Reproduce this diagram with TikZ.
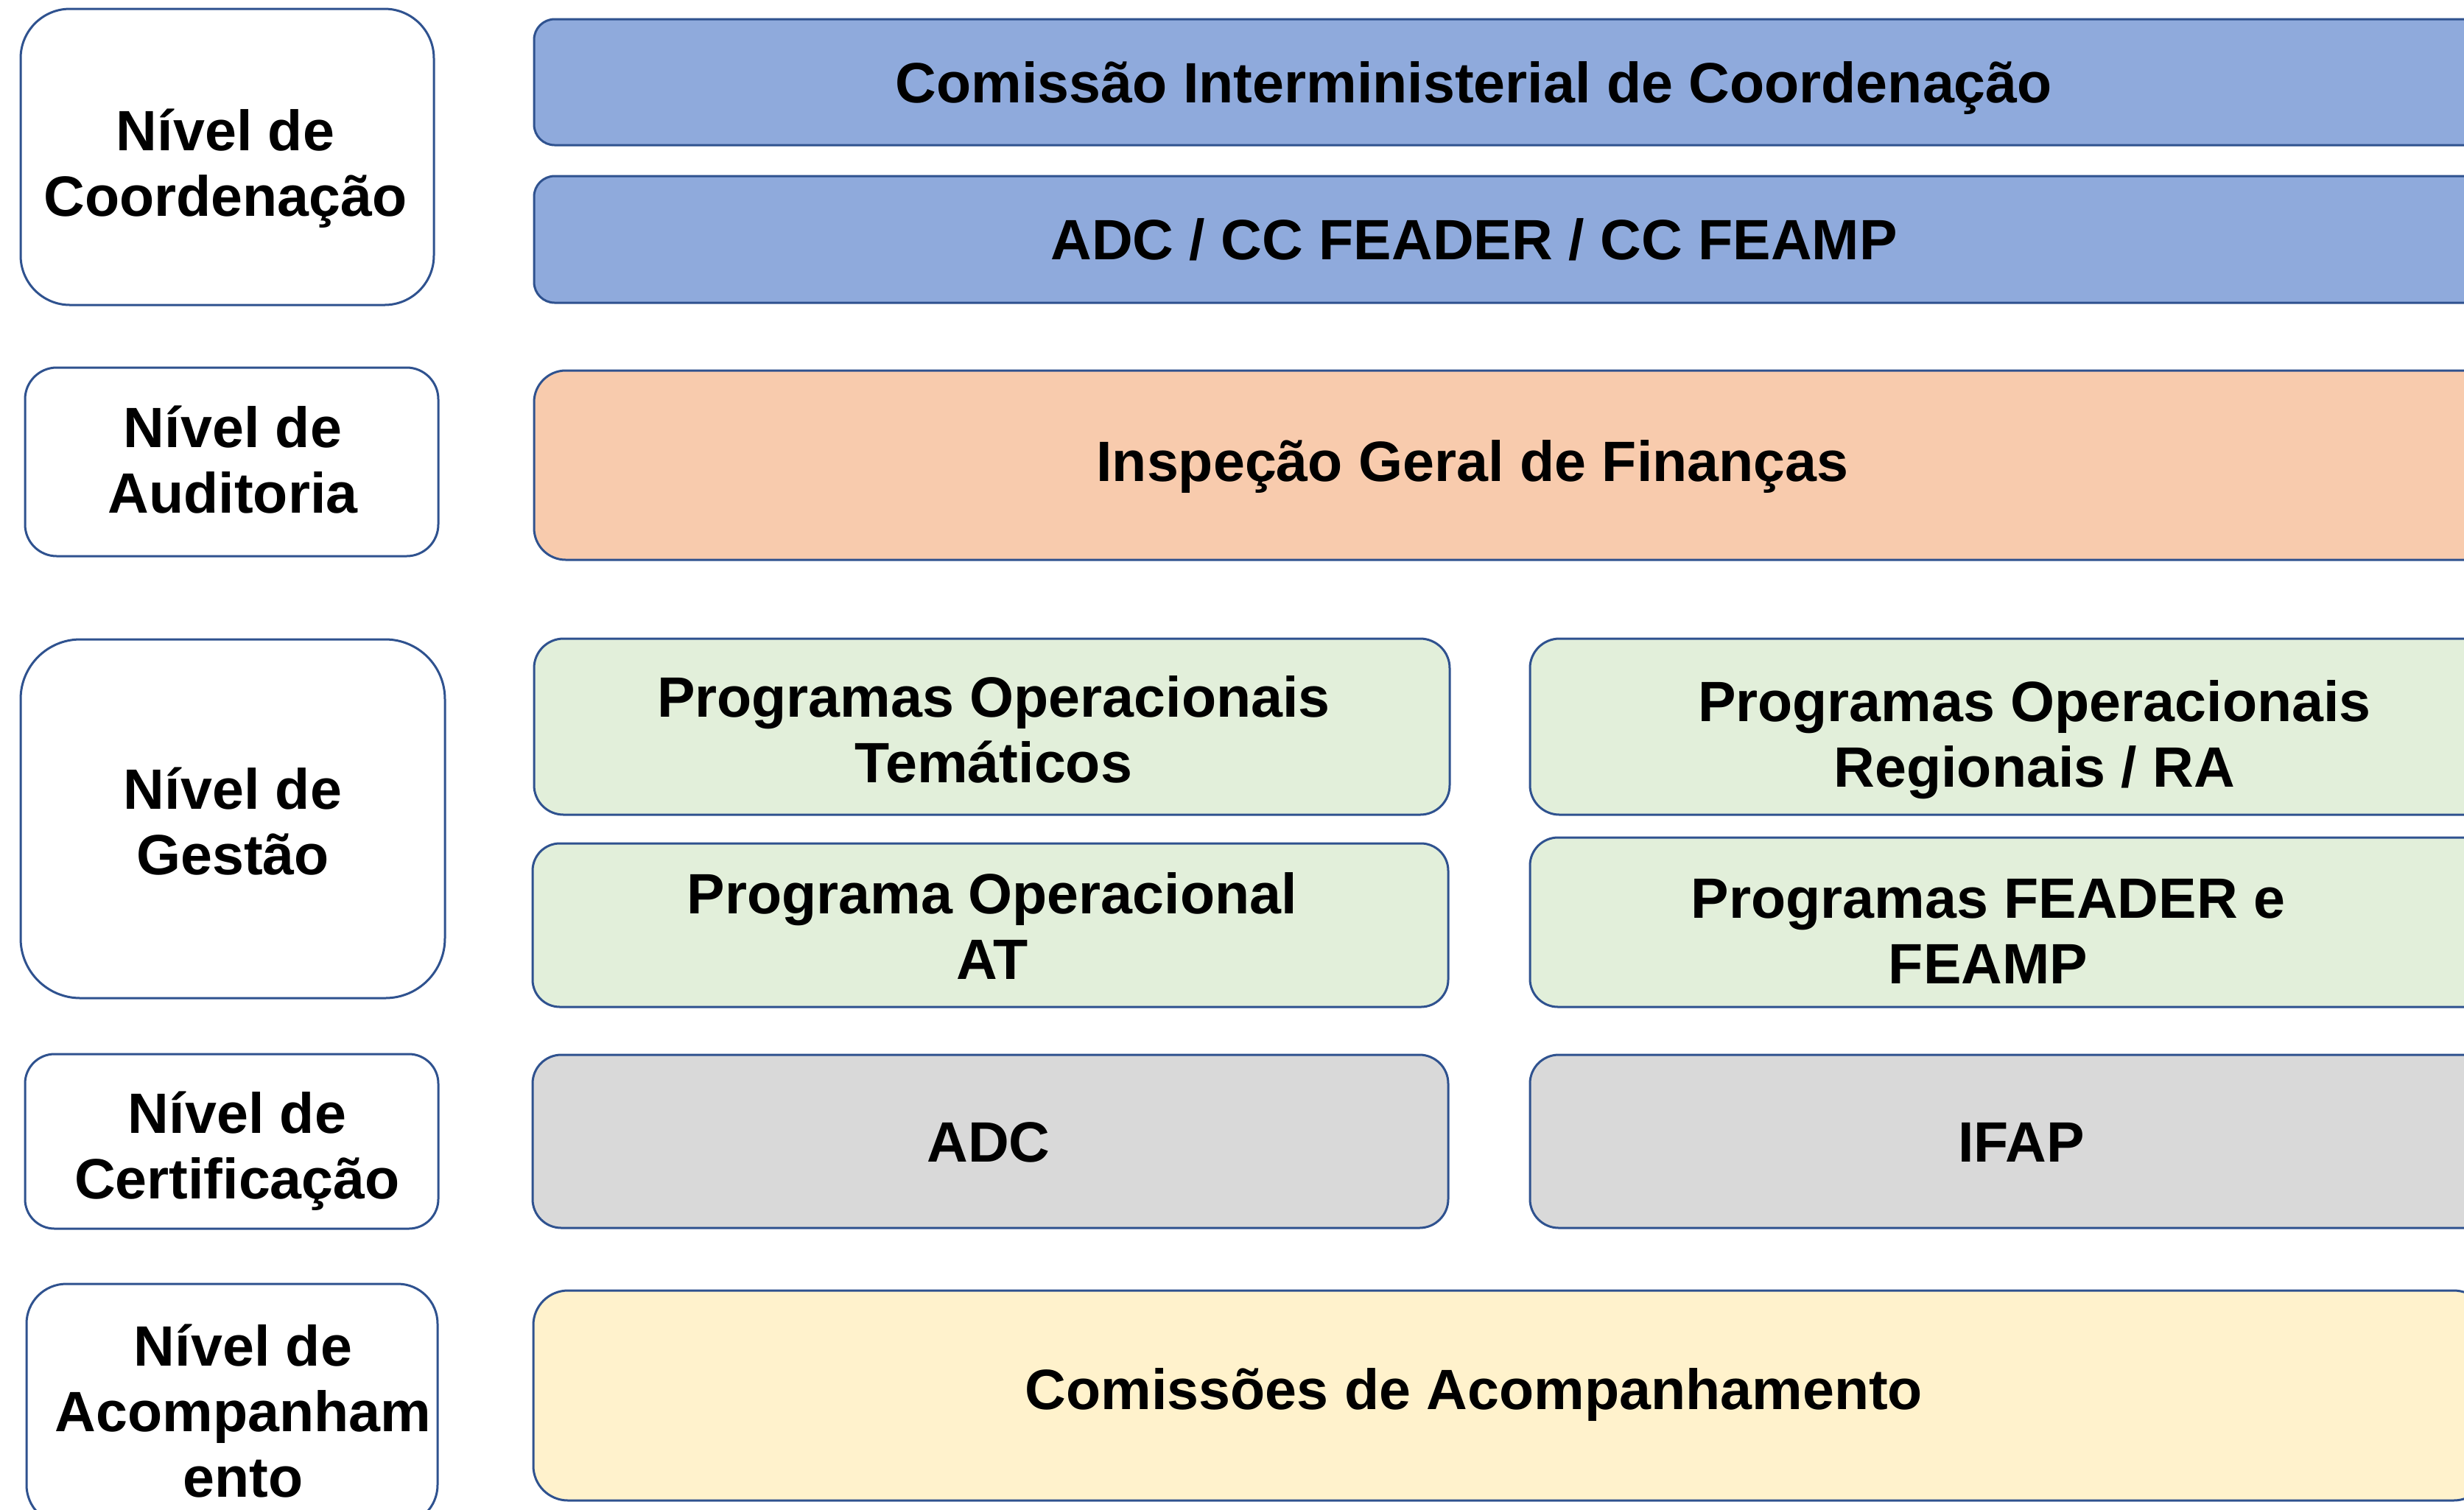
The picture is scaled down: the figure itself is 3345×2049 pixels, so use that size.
\documentclass[tikz,border=0pt]{standalone}
\usepackage{fontspec}
\setmainfont{Liberation Sans}
\definecolor{edge}{RGB}{47,82,143}
\definecolor{bluefill}{RGB}{143,170,220}
\definecolor{peach}{RGB}{248,203,173}
\definecolor{greenfill}{RGB}{226,239,218}
\definecolor{grayfill}{RGB}{217,217,217}
\definecolor{yellowfill}{RGB}{255,242,204}
\begin{document}
\begin{tikzpicture}[x=0.25pt,y=-0.25pt,
  bx/.style={draw=edge, line width=0.75pt, inner sep=0pt, rectangle},
  lvl/.style={bx, fill=white},
  coordbox/.style={bx, fill=bluefill},
  auditbox/.style={bx, fill=peach},
  gestbox/.style={bx, fill=greenfill},
  certbox/.style={bx, fill=grayfill},
  acompbox/.style={bx, fill=yellowfill},
  txt/.style={font=\bfseries\fontsize{19.3}{22.25}\selectfont, align=center, inner sep=0pt, text=black},
]
\useasboundingbox (0,0) rectangle (3345,2049);
\clip (0,0) rectangle (3345,2049);

% ---------- left column: levels ----------
\node[lvl, minimum width=140.25pt, minimum height=100.5pt, rounded corners=16.75pt] (lcoord) at (308.5,213) {};
\node[lvl, minimum width=140.25pt, minimum height=64pt, rounded corners=10.75pt] (laud) at (314.5,627) {};
\node[lvl, minimum width=144pt, minimum height=121.75pt, rounded corners=20.25pt] (lgest) at (316,1111.5) {};
\node[lvl, minimum width=140.25pt, minimum height=59.25pt, rounded corners=10pt] (lcert) at (314.5,1549.5) {};
\node[lvl, minimum width=139.5pt, minimum height=81.75pt, rounded corners=13.5pt] (lacomp) at (315,1906.5) {};

\node[txt] (tcoord) at (306,229) {Nível de\\Coordenação};
\node[txt] (taud) at (316,624) {Nível de\\Auditoria};
\node[txt] (tgest) at (316,1115) {Nível de\\Gestão};
\node[txt] (tcert) at (322,1563) {Nível de\\Certificação};
\node[txt] (tacomp) at (330,1916) {Nível de\\Acompanham\\ento};

% ---------- right side ----------
\node[coordbox, minimum width=700pt, minimum height=42.75pt, rounded corners=7pt] (cic) at (2125,111.5) {};
\node[coordbox, minimum width=700pt, minimum height=43pt, rounded corners=7pt] (adccc) at (2125,325) {};
\node[auditbox, minimum width=700pt, minimum height=64.25pt, rounded corners=10.75pt] (igf) at (2125,631.5) {};

\node[gestbox, minimum width=310.75pt, minimum height=59.75pt, rounded corners=10pt] (pot) at (1346.5,986.5) {};
\node[gestbox, minimum width=310.75pt, minimum height=55.5pt, rounded corners=9.25pt] (poat) at (1344.5,1256) {};
\node[gestbox, minimum width=362pt, minimum height=59.75pt, rounded corners=10pt] (por) at (2801,986.5) {};
\node[gestbox, minimum width=362pt, minimum height=57.5pt, rounded corners=9.5pt] (pfe) at (2801,1252) {};

\node[certbox, minimum width=310.75pt, minimum height=58.75pt, rounded corners=9.75pt] (adc) at (1344.5,1549.5) {};
\node[certbox, minimum width=362pt, minimum height=58.75pt, rounded corners=9.75pt] (ifap) at (2801,1549.5) {};

\node[acompbox, minimum width=663.5pt, minimum height=71.25pt, rounded corners=11.75pt] (cda) at (2051,1894.5) {};

% ---------- right side texts ----------
\node[txt, anchor=base] (tcic) at (2001,139) {Comissão Interministerial de Coordenação};
\node[txt, anchor=base] (tadccc) at (2001,352) {ADC / CC FEADER / CC FEAMP};
\node[txt, anchor=base] (tigf) at (1999,653) {Inspeção Geral de Finanças};
\node[txt] (tpot) at (1349,990) {Programas Operacionais\\Temáticos};
\node[txt] (tpoat) at (1347,1257) {Programa Operacional\\AT};
\node[txt] (tpor) at (2762,1004) {Programas Operacionais\\Regionais / RA};
\node[txt] (tpfe) at (2699,1264) {Programas FEADER e\\FEAMP};
\node[txt, anchor=base] (tadc) at (1342,1577) {ADC};
\node[txt, anchor=base] (tifap) at (2744,1577) {IFAP};
\node[txt, anchor=base] (tcda) at (2001,1913) {Comissões de Acompanhamento};
\end{tikzpicture}
\end{document}
